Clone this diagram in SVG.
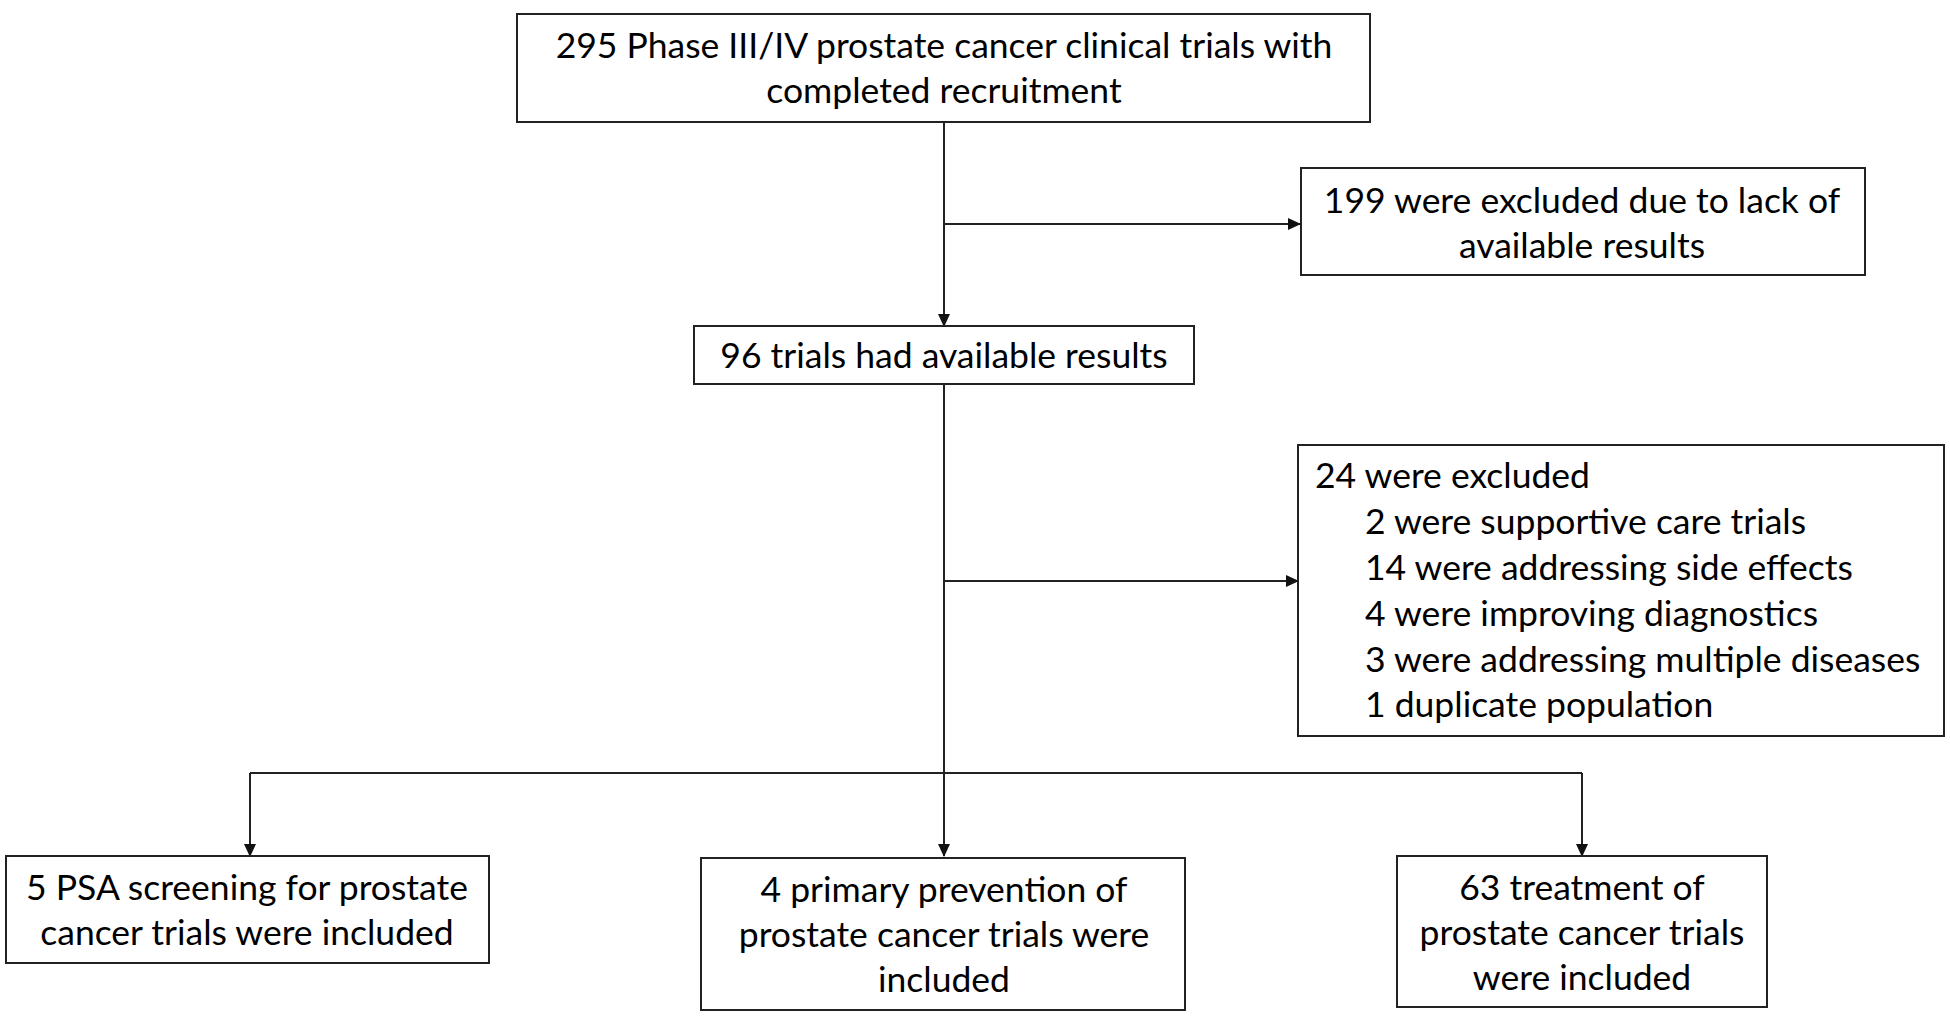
<svg xmlns="http://www.w3.org/2000/svg" width="1950" height="1023" viewBox="0 0 1950 1023">
<style>
.box{fill:#fff;stroke:#222;stroke-width:2}
.t{font-family:Lato,"Open Sans",sans-serif;font-size:35.5px;fill:#000}
.c{text-anchor:middle}
.ln{stroke:#222;stroke-width:2;fill:none}
</style>
<defs>
<marker id="ah" markerWidth="13" markerHeight="12" refX="12" refY="6" orient="auto" markerUnits="userSpaceOnUse">
<path d="M0,0 L13,6 L0,12 Z" fill="#111"/>
</marker>
</defs>
<rect width="1950" height="1023" fill="#fff"/>
<g id="connectors">
<path class="ln" d="M944,122 V326" marker-end="url(#ah)"/>
<path class="ln" d="M944,224 H1300" marker-end="url(#ah)"/>
<path class="ln" d="M944,384 V856" marker-end="url(#ah)"/>
<path class="ln" d="M944,581 H1298" marker-end="url(#ah)"/>
<path class="ln" d="M250,773 H1582"/>
<path class="ln" d="M250,773 V856" marker-end="url(#ah)"/>
<path class="ln" d="M1582,773 V856" marker-end="url(#ah)"/>
</g>
<g id="n1">
<rect class="box" x="517" y="14" width="853" height="108"/>
<text class="t c" x="944" y="58">295 Phase III/IV prostate cancer clinical trials with</text>
<text class="t c" x="944" y="103">completed recruitment</text>
</g>
<g id="n2">
<rect class="box" x="1301" y="168" width="564" height="107"/>
<text class="t c" x="1582" y="213">199 were excluded due to lack of</text>
<text class="t c" x="1582" y="258">available results</text>
</g>
<g id="n3">
<rect class="box" x="694" y="326" width="500" height="58"/>
<text class="t c" x="944" y="368">96 trials had available results</text>
</g>
<g id="n4">
<rect class="box" x="1298" y="445" width="646" height="291"/>
<text class="t" x="1315" y="488">24 were excluded</text>
<text class="t" x="1365" y="534">2 were supportive care trials</text>
<text class="t" x="1365" y="580">14 were addressing side effects</text>
<text class="t" x="1365" y="626">4 were improving diagnostics</text>
<text class="t" x="1365" y="672">3 were addressing multiple diseases</text>
<text class="t" x="1365" y="717">1 duplicate population</text>
</g>
<g id="n5">
<rect class="box" x="6" y="856" width="483" height="107"/>
<text class="t c" x="247" y="900">5 PSA screening for prostate</text>
<text class="t c" x="247" y="945">cancer trials were included</text>
</g>
<g id="n6">
<rect class="box" x="701" y="858" width="484" height="152"/>
<text class="t c" x="944" y="902">4 primary prevention of</text>
<text class="t c" x="944" y="947">prostate cancer trials were</text>
<text class="t c" x="944" y="992">included</text>
</g>
<g id="n7">
<rect class="box" x="1397" y="856" width="370" height="151"/>
<text class="t c" x="1582" y="900">63 treatment of</text>
<text class="t c" x="1582" y="945">prostate cancer trials</text>
<text class="t c" x="1582" y="990">were included</text>
</g>
</svg>
